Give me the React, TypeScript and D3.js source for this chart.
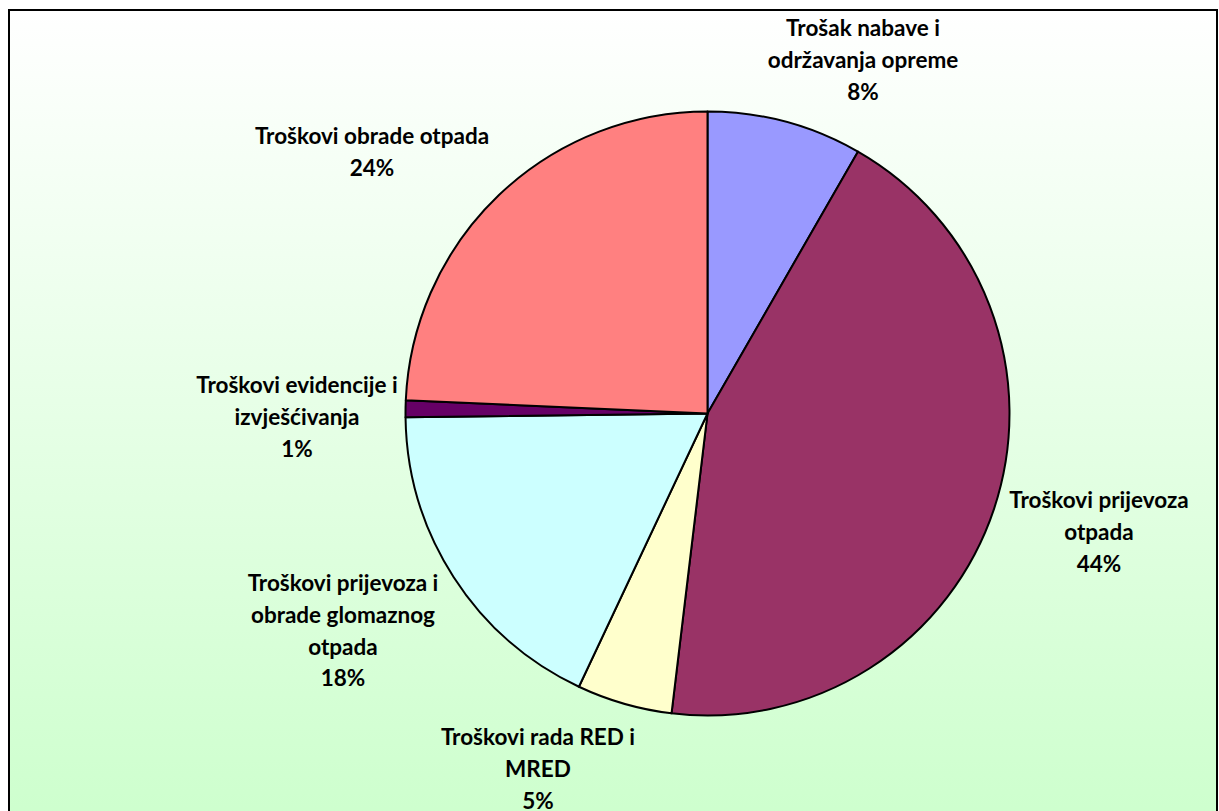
import React from "react";
import * as d3 from "d3";

const categories = [
  "Trošak nabave i održavanja opreme",
  "Troškovi prijevoza otpada",
  "Troškovi rada RED i MRED",
  "Troškovi prijevoza i obrade glomaznog otpada",
  "Troškovi evidencije i izvješćivanja",
  "Troškovi obrade otpada",
];
const values = [8.3, 43.6, 5.1, 17.8, 0.9, 24.3];
const percentLabels = ["8%", "44%", "5%", "18%", "1%", "24%"];
const labelLines = [
  ["Trošak nabave i", "održavanja opreme"],
  ["Troškovi prijevoza", "otpada"],
  ["Troškovi rada RED i", "MRED"],
  ["Troškovi prijevoza i", "obrade glomaznog", "otpada"],
  ["Troškovi evidencije i", "izvješćivanja"],
  ["Troškovi obrade otpada"],
];
const colors = ["#9999FF", "#993366", "#FFFFCC", "#CCFFFF", "#660066", "#FF8080"];

// layout: label block centre x and first-line centre y
const labelLayout: [number, number][] = [
  [863, 28],
  [1099, 500],
  [538, 737],
  [343, 583],
  [297, 385],
  [372, 136],
];

export default function App() {
  const W = 1219;
  const H = 811;
  const cx = 707.5;
  const cy = 413.5;
  const r = 302;
  const lineH = 31.7;

  const pie = d3.pie<number>().sort(null).value((d) => d)(values);
  const arc = d3.arc<d3.PieArcDatum<number>>().innerRadius(0).outerRadius(r);

  return (
    <svg
      width={W}
      height={H}
      style={{ position: "absolute", left: 0, top: 0 }}
    >
      <defs>
        <linearGradient id="bg" x1="0" y1="0" x2="0" y2="1">
          <stop offset="0" stopColor="#FFFFFF" />
          <stop offset="1" stopColor="#CCFFCC" />
        </linearGradient>
      </defs>
      <rect x={9} y={10} width={1208} height={830} fill="url(#bg)" stroke="#000" strokeWidth={2} />
      <g transform={`translate(${cx},${cy})`}>
        {pie.map((p, i) => (
          <path key={categories[i]} d={arc(p) || ""} fill={colors[i]} stroke="#000" strokeWidth={2} strokeLinejoin="round" />
        ))}
      </g>
      {labelLines.map((lines, i) => {
        const all = [...lines, percentLabels[i]];
        const [lx, ly] = labelLayout[i];
        return (
          <text
            key={i}
            textAnchor="middle"
            fontFamily="Lato, 'Open Sans', sans-serif"
            fontWeight="bold"
            fontSize={22.5}
            fill="#000"
          >
            {all.map((t, j) => (
              <tspan key={j} x={lx} y={ly + j * lineH} dy="0.36em">
                {t}
              </tspan>
            ))}
          </text>
        );
      })}
    </svg>
  );
}
